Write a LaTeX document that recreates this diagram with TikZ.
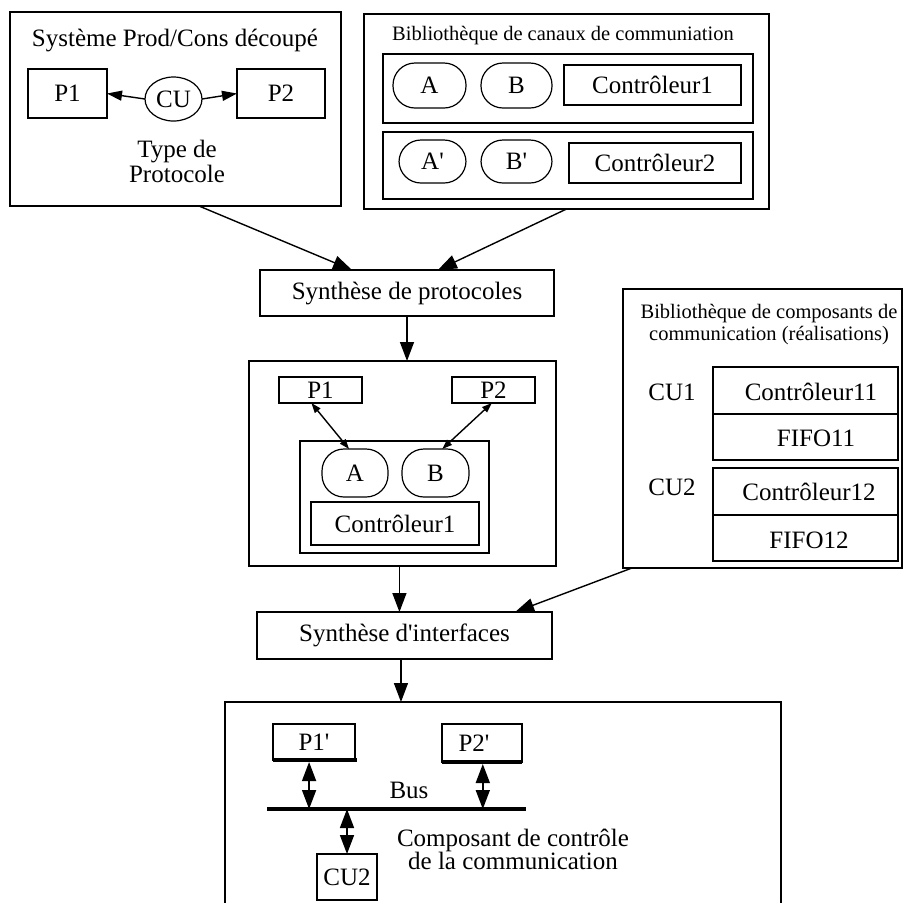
\documentclass[tikz,border=0pt]{standalone}
\usepackage{fontspec}
\setmainfont{Liberation Serif}
\usetikzlibrary{arrows.meta,calc,shapes.geometric}
\begin{document}
\begin{tikzpicture}[x=0.5pt,y=-0.5pt,
  every node/.style={font=\fontsize{12.5}{14}\selectfont, inner sep=0pt, outer sep=0pt},
  box/.style={draw, line width=0.6pt, inner sep=0pt},
  capsule/.style={draw, line width=0.6pt, rounded corners=11pt, inner sep=0pt},
  smalltxt/.style={font=\fontsize{10.25}{12}\selectfont},
  bigarrow/.style={-{Triangle[length=9.5pt,width=7pt]}, line width=0.7pt},
  midarrow/.style={-{Triangle[length=7.5pt,width=5pt]}, line width=0.7pt},
  smallarrow/.style={{Triangle[length=5pt,width=3.5pt]}-{Triangle[length=5pt,width=3.5pt]}, line width=0.7pt},
  dblarrow/.style={{Triangle[length=9.5pt,width=7pt]}-{Triangle[length=9.5pt,width=7pt]}, line width=0.8pt},
  thickline/.style={line width=2pt},
  busline/.style={line width=1.6pt},
  divider/.style={line width=1pt}]
\useasboundingbox (0,0) rectangle (904,902);

% ---------- Box 1 : Systeme Prod/Cons ----------
\node[box, minimum width=165.5pt, minimum height=97pt] (sys) at (175.5,109) {};
\node[anchor=base] (systitle) at (175,46) {Système Prod/Cons découpé};
\node[box, minimum width=39.5pt, minimum height=24.5pt] (p1) at (67.5,93.5) {P1};
\node[box, minimum width=44pt, minimum height=24.5pt] (p2) at (281,93.5) {P2};
\node[ellipse, minimum width=28.5pt, minimum height=22pt] (cu) at (173.5,99) {CU};
\draw[line width=0.6pt] (cu.center) ellipse [x radius=28.5, y radius=22];
\draw[midarrow] (cu.west) -- (p1.east);
\draw[midarrow] (cu.east) -- (p2.west);
\node[anchor=base] (type1) at (177,157) {Type de};
\node[anchor=base] (type2) at (177,182) {Protocole};

% ---------- Box 2 : Bibliotheque de canaux ----------
\node[box, minimum width=202.5pt, minimum height=97.5pt] (libc) at (566.5,111.5) {};
\node[anchor=base, smalltxt] (libctitle) at (563,40) {Bibliothèque de canaux de communiation};
\node[box, minimum width=185pt, minimum height=34.5pt] (ch1) at (568,88.5) {};
\node[box, minimum width=185pt, minimum height=33.5pt] (ch2) at (568,165.5) {};
\node[capsule, minimum width=36.5pt, minimum height=22.5pt] (ca) at (429.5,85.5) {A};
\node[capsule, minimum width=35.5pt, minimum height=22.5pt] (cb) at (516.5,85.5) {B};
\node[box, minimum width=88.5pt, minimum height=20pt] (cc1) at (652.5,85) {Contrôleur1};
\node[capsule, minimum width=33.5pt, minimum height=21.5pt] (cap) at (432.5,161.5) {A\textquotesingle};
\node[capsule, minimum width=35.5pt, minimum height=21.5pt] (cbp) at (516.5,161.5) {B\textquotesingle};
\node[box, minimum width=86pt, minimum height=20pt] (cc2) at (655,163) {Contrôleur2};

% ---------- Synthese de protocoles ----------
\node[box, minimum width=147pt, minimum height=23pt] (sp) at (407,293) {Synthèse de protocoles};
\draw[bigarrow] ($(sys.south west)!0.571!(sys.south east)$) -- ($(sp.north west)!0.313!(sp.north east)$);
\draw[bigarrow] (libc.south) -- ($(sp.north west)!0.605!(sp.north east)$);

% ---------- Middle box ----------
\node[box, minimum width=153.5pt, minimum height=102.5pt] (mid) at (402.5,463.5) {};
\draw[bigarrow] (sp.south) -- (sp.south |- mid.north);
\node[box, minimum width=41.5pt, minimum height=13pt] (mp1) at (320.5,390) {P1};
\node[box, minimum width=41.5pt, minimum height=13pt] (mp2) at (493.5,390) {P2};
\node[box, minimum width=94.5pt, minimum height=56pt] (inner) at (394.5,497) {};
\node[capsule, minimum width=33pt, minimum height=24pt] (ma) at (355,473) {A};
\node[capsule, minimum width=33.5pt, minimum height=24pt] (mb) at (435.5,473) {B};
\node[box, minimum width=84pt, minimum height=21.5pt] (mc) at (395,523.5) {Contrôleur1};
\draw[smallarrow] ($(mp1.south west)!0.39!(mp1.south east)$) -- ($(ma.north west)!0.41!(ma.north east)$);
\draw[smallarrow] ($(mp2.south west)!0.48!(mp2.south east)$) -- ($(mb.north west)!0.6!(mb.north east)$);

% ---------- Bibliotheque de composants ----------
\node[box, minimum width=139.5pt, minimum height=139.5pt] (libk) at (762.5,428.5) {};
\node[anchor=base, smalltxt] (libkt1) at (769,318) {Bibliothèque de composants de};
\node[anchor=base, smalltxt] (libkt2) at (769,340) {communication (réalisations)};
\node (cu1) at (672,392) {CU1};
\node (cu2l) at (672,487) {CU2};
\node[box, minimum width=92.5pt, minimum height=46.5pt] (k1) at (805.5,413.5) {};
\draw[divider] (k1.west |- 0,414) -- (k1.east |- 0,414);
\node (k1a) at (811,392) {Contrôleur11};
\node (k1b) at (816,438) {FIFO11};
\node[box, minimum width=92.5pt, minimum height=46.5pt] (k2) at (805.5,514.5) {};
\draw[divider] (k2.west |- 0,515) -- (k2.east |- 0,515);
\node (k2a) at (809,492) {Contrôleur12};
\node (k2b) at (809,540) {FIFO12};

% ---------- Synthese d'interfaces ----------
\node[box, minimum width=147.5pt, minimum height=23.5pt] (si) at (404.5,635.5) {Synthèse d\textquotesingle interfaces};
\coordinate (midsrc) at ($(mid.south west)!0.49!(mid.south east)$);
\draw[bigarrow] (midsrc) -- (midsrc |- si.north);
\draw[bigarrow] ($(libk.south west)!0.032!(libk.south east)$) -- ($(si.north west)!0.875!(si.north east)$);

% ---------- Bottom box ----------
\node[box, minimum width=278pt, minimum height=119pt] (bot) at (503,821) {};
\coordinate (sisrc) at ($(si.south west)!0.488!(si.south east)$);
\draw[bigarrow] (sisrc) -- (sisrc |- bot.north);
\node[box, minimum width=41pt, minimum height=18pt] (pp1) at (314,742) {P1\textquotesingle};
\node[box, minimum width=40pt, minimum height=19pt] (pp2) at (482,743) {P2\textquotesingle\hspace*{8pt}};
\draw[thickline] (pp1.south west) -- ([xshift=1pt]pp1.south east);
\draw[thickline] (pp2.south west) -- (pp2.south east);
\coordinate (busL) at (267,809);
\coordinate (busR) at (526,809);
\draw[busline] (busL) -- (busR);
\node (bus) at (409,790) {Bus};
\coordinate (a1) at ($(pp1.south west)!0.44!(pp1.south east)$);
\coordinate (a2) at ($(pp2.south west)!0.51!(pp2.south east)$);
\draw[dblarrow] ([yshift=-1pt]a1) -- (a1 |- busL);
\draw[dblarrow] ([yshift=-1pt]a2) -- (a2 |- busL);
\node[box, minimum width=30pt, minimum height=23pt] (cu2) at (347,877) {CU2};
\draw[dblarrow] (cu2.north |- busL) -- (cu2.north);
\node[anchor=base] (comp1) at (513,846) {Composant de contrôle};
\node[anchor=base] (comp2) at (513,869) {de la communication};
\end{tikzpicture}
\end{document}
